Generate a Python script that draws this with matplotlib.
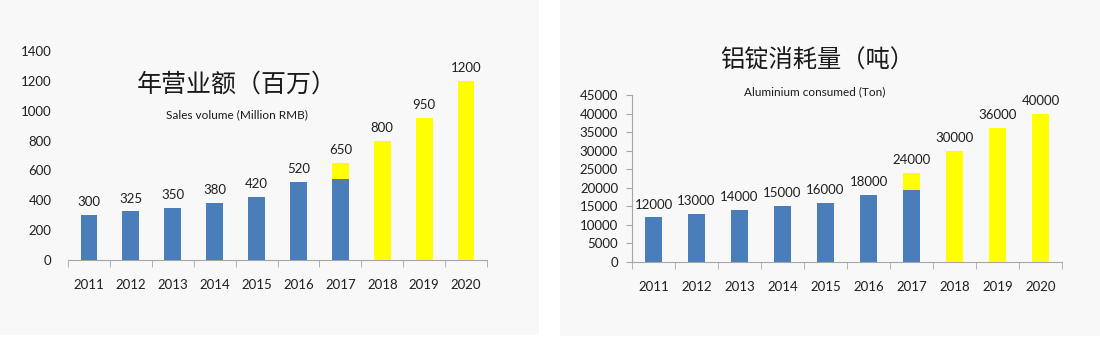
import matplotlib
matplotlib.use("Agg")
import matplotlib.pyplot as plt
from matplotlib.patches import Rectangle

plt.rcParams['font.family'] = ['Lato', 'Noto Sans CJK SC', 'DejaVu Sans']

years = ["2011", "2012", "2013", "2014", "2015", "2016", "2017", "2018", "2019", "2020"]

# sales (million RMB): blue = actual part, yellow = forecast part
sales_actual = [300, 325, 350, 380, 420, 520, 540, 0, 0, 0]
sales_total = [300, 325, 350, 380, 420, 520, 650, 800, 950, 1200]

# aluminium consumed (ton)
alu_actual = [12000, 13000, 14000, 15000, 16000, 18000, 19300, 0, 0, 0]
alu_total = [12000, 13000, 14000, 15000, 16000, 18000, 24000, 30000, 36000, 40000]

blue = "#4a7ebb"
yellow = "#ffff00"
txt = "#1f1f1f"
bg = "#f8f8f8"

fig = plt.figure(figsize=(11, 3.37), dpi=100)
fig.patch.set_facecolor("white")
fig.patches.append(Rectangle((0, 0.006), 539/1100, 0.994, transform=fig.transFigure,
                             facecolor=bg, edgecolor="none", zorder=-10))
fig.patches.append(Rectangle((560/1100, 0.003), 540/1100, 0.997, transform=fig.transFigure,
                             facecolor=bg, edgecolor="none", zorder=-10))


def draw(ax, actual, total, ymax, ystep, yaxis_line):
    x = list(range(len(years)))
    extra = [t - a for a, t in zip(actual, total)]
    ax.bar(x, actual, width=0.4, color=blue, zorder=3)
    ax.bar(x, extra, bottom=actual, width=0.4, color=yellow, zorder=3)
    for i, t in enumerate(total):
        ax.annotate(str(t), (i, t), xytext=(0, 5), textcoords="offset points",
                    ha="center", va="bottom", fontsize=9.5, color=txt)
    ax.set_xlim(-0.5, len(years) - 0.5)
    ax.set_ylim(0, ymax)
    ax.set_yticks(range(0, ymax + 1, ystep))
    ax.set_xticks(x)
    ax.set_xticklabels(years)
    ax.set_xticks([i + 0.5 for i in range(-1, len(years))], minor=True)
    ax.set_facecolor("none")
    for s in ["top", "right"]:
        ax.spines[s].set_visible(False)
    ax.spines["bottom"].set_color("#a6a6a6")
    ax.tick_params(axis="x", which="major", length=0, pad=14, labelsize=9.5, labelcolor=txt)
    ax.tick_params(axis="x", which="minor", length=5, color="#a6a6a6")
    if yaxis_line:
        ax.spines["left"].set_color("#a6a6a6")
        ax.tick_params(axis="y", length=4, color="#a6a6a6", pad=6, labelsize=9.5, labelcolor=txt)
    else:
        ax.spines["left"].set_visible(False)
        ax.tick_params(axis="y", length=0, pad=12, labelsize=9.5, labelcolor=txt)


ax1 = fig.add_axes([68/1100, 77/337, 419/1100, 209/337])
draw(ax1, sales_actual, sales_total, 1400, 200, False)
fig.text(237/1100, 1 - 85/337, "年营业额（百万）", ha="center", va="center",
         fontsize=18, color="#1a1a1a", family=['Noto Sans CJK SC', 'DejaVu Sans'])
fig.text(237/1100, 1 - 115/337, "Sales volume (Million RMB)", ha="center", va="center",
         fontsize=8.5, color="#1a1a1a")

ax2 = fig.add_axes([632/1100, 75/337, 430/1100, 167/337])
draw(ax2, alu_actual, alu_total, 45000, 5000, True)
fig.text(817/1100, 1 - 61/337, "铝锭消耗量（吨）", ha="center", va="center",
         fontsize=17.5, color="#1a1a1a", family=['Noto Sans CJK SC', 'DejaVu Sans'])
fig.text(815/1100, 1 - 92/337, "Aluminium consumed (Ton)", ha="center", va="center",
         fontsize=8.5, color="#1a1a1a")

fig.savefig("out.png", dpi=100)
